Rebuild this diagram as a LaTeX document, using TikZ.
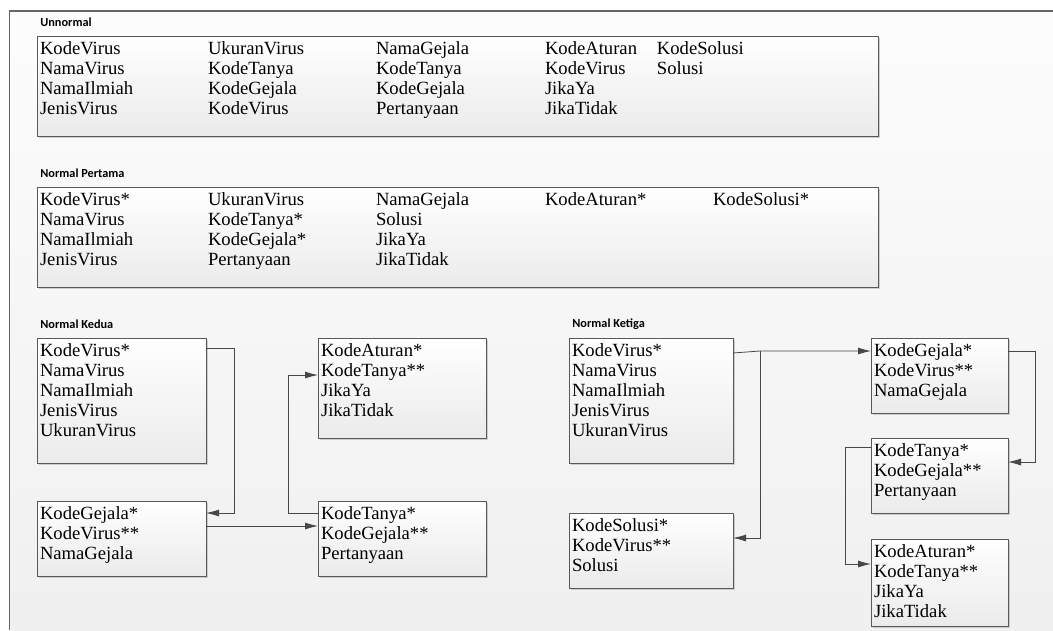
\documentclass[tikz,border=0pt]{standalone}
\usepackage{fontspec}
\setmainfont{Liberation Serif}
\newfontfamily\capfont{Carlito}
\usetikzlibrary{arrows.meta,calc,shadows}
\newlength\px
\setlength\px{0.02cm}
\setlength\tabcolsep{0pt}
% box contents: width, height (px), column spec, rows
\newcommand{\fields}[4]{%
  \parbox[c][\dimexpr#2\px-10\px\relax][t]{\dimexpr#1\px-6\px\relax}{%
    \begin{tabular}{@{}#3@{}}#4\end{tabular}}}
\tikzset{
  tbl/.style={draw=black!65, line width=0.5pt, top color=white, bottom color=black!8,
    drop shadow={shadow xshift=0.03cm, shadow yshift=-0.03cm, fill=black!30, opacity=0.6},
    anchor=north west, inner xsep=0.06cm, inner ysep=0.1cm, outer sep=0pt,
    font=\fontsize{10.6}{11.34}\selectfont},
  grp/.style={anchor=west, inner sep=0pt, font=\capfont\bfseries\fontsize{7}{8}\selectfont},
  link/.style={draw=black!72, line width=0.45pt, -{Latex[length=0.26cm,width=0.14cm]}}
}
\begin{document}
\begin{tikzpicture}[x=0.02cm, y=-0.02cm]
  \useasboundingbox (0,0) rectangle (1053,630);
  \fill[top color=black!1, bottom color=black!6] (9.5,11) rectangle (1053,630);
  \draw[black!60, line width=0.6pt] (9.5,630) |- (1053,11);

  % unnormal
  \node[grp] (lun) at (40,22) {Unnormal};
  \node[tbl] (un) at (37,36) {\fields{841}{100}{p{168\px}p{168\px}p{169\px}p{112\px}l}{%
    KodeVirus & UkuranVirus & NamaGejala & KodeAturan & KodeSolusi\\
    NamaVirus & KodeTanya & KodeTanya & KodeVirus & Solusi\\
    NamaIlmiah & KodeGejala & KodeGejala & JikaYa & \\
    JenisVirus & KodeVirus & Pertanyaan & JikaTidak & }};

  % normal pertama
  \node[grp] (lnf1) at (40,173) {Normal Pertama};
  \node[tbl] (nf1) at (37,187) {\fields{841}{100}{p{168\px}p{168\px}p{169\px}p{168\px}l}{%
    KodeVirus* & UkuranVirus & NamaGejala & KodeAturan* & KodeSolusi*\\
    NamaVirus & KodeTanya* & Solusi & & \\
    NamaIlmiah & KodeGejala* & JikaYa & & \\
    JenisVirus & Pertanyaan & JikaTidak & & }};

  % normal kedua
  \node[grp] (lnf2) at (40,324) {Normal Kedua};
  \node[tbl] (vir2) at (37,338) {\fields{169}{125}{l}{KodeVirus*\\NamaVirus\\NamaIlmiah\\JenisVirus\\UkuranVirus}};
  \node[tbl] (gej2) at (37,501) {\fields{169}{75}{l}{KodeGejala*\\KodeVirus**\\NamaGejala}};
  \node[tbl] (atu2) at (318,338) {\fields{168}{100}{l}{KodeAturan*\\KodeTanya**\\JikaYa\\JikaTidak}};
  \node[tbl] (tan2) at (318,501) {\fields{168}{75}{l}{KodeTanya*\\KodeGejala**\\Pertanyaan}};

  % normal ketiga
  \node[grp] (lnf3) at (572,324) {Normal Ketiga};
  \node[tbl] (vir3) at (569,338) {\fields{164}{125}{l}{KodeVirus*\\NamaVirus\\NamaIlmiah\\JenisVirus\\UkuranVirus}};
  \node[tbl] (sol3) at (569,513) {\fields{164}{75}{l}{KodeSolusi*\\KodeVirus**\\Solusi}};
  \node[tbl] (gej3) at (871,338) {\fields{137}{75}{l}{KodeGejala*\\KodeVirus**\\NamaGejala}};
  \node[tbl] (tan3) at (871,438) {\fields{137}{75}{l}{KodeTanya*\\KodeGejala**\\Pertanyaan}};
  \node[tbl] (atu3) at (871,539) {\fields{137}{87}{l}{KodeAturan*\\KodeTanya**\\JikaYa\\JikaTidak}};

  % links
  \draw[link] ($(vir2.north east)+(0,10)$) -| ($(gej2.north east)+(28,12)$) -- ($(gej2.north east)+(0,12)$);
  \draw[link] ($(gej2.north east)+(0,25)$) -- ($(tan2.north west)+(0,25)$);
  \draw[link] ($(tan2.north west)+(0,12)$) -| ($(atu2.north west)+(-30,37)$) -- ($(atu2.north west)+(0,37)$);
  \draw[link] ($(vir3.north east)+(0,15)$) -- ($(vir3.north east)+(27,13)$) -- ($(gej3.north west)+(0,13)$);
  \draw[link] ($(vir3.north east)+(27,13)$) |- ($(sol3.north east)+(0,25)$);
  \draw[link] ($(gej3.north east)+(0,13)$) -| ($(tan3.north east)+(27,24)$) -- ($(tan3.north east)+(0,24)$);
  \draw[link] ($(tan3.north west)+(0,9)$) -| ($(atu3.north west)+(-26,25)$) -- ($(atu3.north west)+(0,25)$);
\end{tikzpicture}
\end{document}
